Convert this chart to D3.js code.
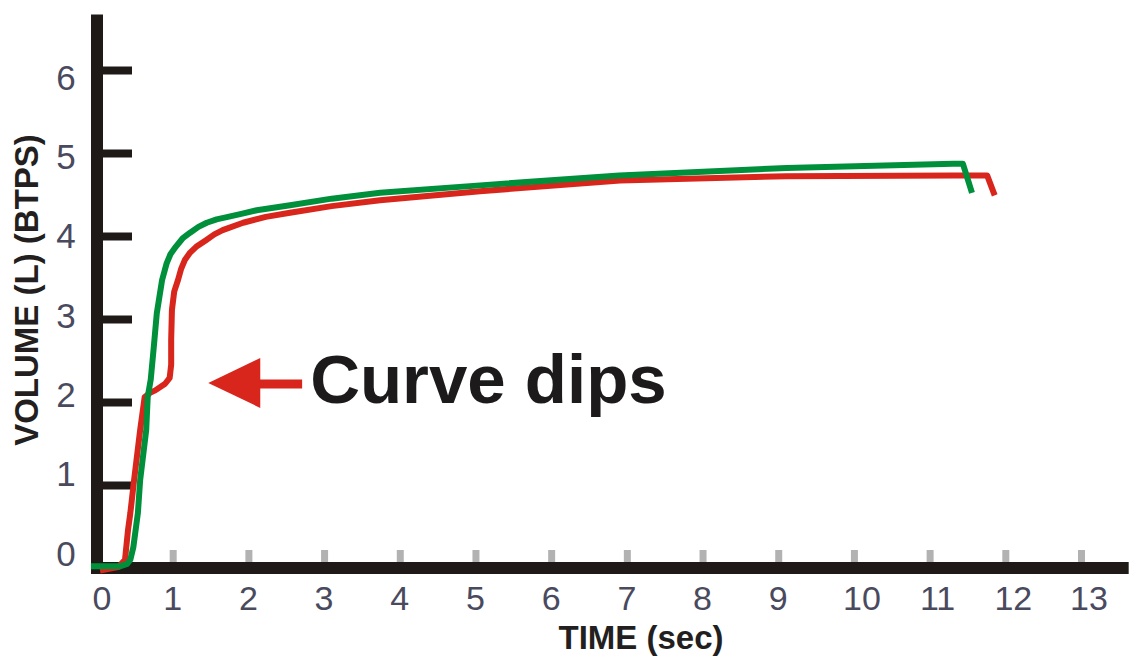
<!DOCTYPE html>
<html>
<head>
<meta charset="utf-8">
<script src="https://cdn.jsdelivr.net/npm/d3@7"></script>
<style>
  html, body { margin: 0; padding: 0; background: #fff; }
  svg { display: block; }
  text { font-family: "Liberation Sans", Arial, sans-serif; }
</style>
</head>
<body>
<svg id="chart" width="1129" height="657"></svg>
<script>
// spirometry volume-time curves: normal (green) vs. one with a dip (red)

const xTicks = [0, 1, 2, 3, 4, 5, 6, 7, 8, 9, 10, 11, 12, 13];
const yTicks = [0, 1, 2, 3, 4, 5, 6];

// green trace (seconds, litres)
const greenTime = [-0.08, 0.30, 0.40, 0.44, 0.48, 0.54, 0.57, 0.65, 0.67, 0.71, 0.75, 0.79, 0.86, 0.92, 0.97, 1.04, 1.13, 1.23, 1.34, 1.45, 1.58, 1.73, 1.92, 2.11, 2.55, 3.10, 3.74, 5.06, 6.90, 9.11, 11.31, 11.44, 11.56];
const greenVol  = [0.02, 0.02, 0.05, 0.10, 0.25, 0.66, 1.06, 1.66, 2.06, 2.27, 2.66, 3.07, 3.47, 3.67, 3.78, 3.87, 3.97, 4.04, 4.11, 4.16, 4.20, 4.23, 4.27, 4.31, 4.37, 4.45, 4.52, 4.61, 4.73, 4.82, 4.87, 4.87, 4.52];

// red trace, the one that dips
const redTime = [0.04, 0.28, 0.37, 0.41, 0.44, 0.49, 0.57, 0.63, 0.70, 0.77, 0.90, 0.96, 0.98, 0.98, 0.99, 1.02, 1.07, 1.11, 1.16, 1.23, 1.31, 1.44, 1.55, 1.66, 1.93, 2.23, 2.55, 3.10, 3.74, 5.06, 6.91, 9.11, 11.31, 11.76, 11.86];
const redVol  = [-0.03, 0.01, 0.10, 0.46, 0.66, 1.06, 1.66, 2.06, 2.11, 2.14, 2.22, 2.29, 2.45, 2.75, 3.11, 3.33, 3.47, 3.60, 3.71, 3.80, 3.87, 3.95, 4.02, 4.07, 4.16, 4.23, 4.28, 4.36, 4.43, 4.54, 4.67, 4.72, 4.73, 4.73, 4.49];

// annotation arrow, in data units
const arrowTip = [1.47, 2.23];
const arrowTailX = 2.71;
const noteText = "Curve dips";

const axisColor = "#1f1a17";
const greenColor = "#00903c";
const redColor = "#d8261c";
const labelColor = "#4a4a5e";

const svg = d3.select("#chart");

// SCALES
const x = d3.scaleLinear().domain([0, 13]).range([97, 1081]);
const y = d3.scaleLinear().domain([0, 6]).range([568, 70]);
// tick numbers sit a bit off the ticks in the original
const yLab = d3.scaleLinear().domain([0, 6]).range([553, 77]);

// AXES
// x ticks (small grey marks above the axis)
svg.append("g")
    .attr("class", "x axis")
    .attr("transform", `translate(0,${y(0) - 6})`)
    .call(d3.axisTop(x).tickValues(xTicks.slice(1)).tickSize(12).tickFormat(""))
    .call(g => g.select(".domain").remove())
    .selectAll(".tick line")
    .attr("stroke", "#b2b2b2")
    .attr("stroke-width", 7);

// y ticks (heavy black)
svg.append("g")
    .attr("class", "y axis")
    .attr("transform", `translate(103,0)`)
    .call(d3.axisRight(y).tickValues(yTicks.slice(1)).tickSize(29).tickFormat(""))
    .call(g => g.select(".domain").remove())
    .selectAll(".tick line")
    .attr("stroke", axisColor)
    .attr("stroke-width", 8);

// axis bars
svg.append("line")
    .attr("x1", x(0)).attr("x2", x(0))
    .attr("y1", y(0) + 6).attr("y2", y(6.67))
    .attr("stroke", axisColor).attr("stroke-width", 12);

svg.append("line")
    .attr("x1", x(0) - 6).attr("x2", x(13.63))
    .attr("y1", y(0)).attr("y2", y(0))
    .attr("stroke", axisColor).attr("stroke-width", 12);

// tick labels
svg.selectAll(".xlab")
    .data(xTicks)
    .join("text")
    .attr("class", "xlab")
    .attr("x", d => x(d) + (d >= 10 ? 8 : d === 0 ? 5 : 0))
    .attr("y", 610)
    .attr("text-anchor", "middle")
    .attr("font-size", 34)
    .attr("fill", labelColor)
    .text(d => d);

svg.selectAll(".ylab")
    .data(yTicks)
    .join("text")
    .attr("class", "ylab")
    .attr("x", 66)
    .attr("y", d => yLab(d))
    .attr("dy", "0.36em")
    .attr("text-anchor", "middle")
    .attr("font-size", 35)
    .attr("fill", labelColor)
    .text(d => d);

// axis titles
svg.append("text")
    .attr("x", 641)
    .attr("y", 649)
    .attr("text-anchor", "middle")
    .attr("font-size", 33)
    .attr("font-weight", "bold")
    .attr("fill", "#231f20")
    .text("TIME (sec)");

svg.append("text")
    .attr("transform", "translate(38,290) rotate(-90)")
    .attr("text-anchor", "middle")
    .attr("font-size", 33)
    .attr("font-weight", "bold")
    .attr("fill", "#231f20")
    .text("VOLUME (L) (BTPS)");

// CURVES
const line = d3.line()
    .x(d => x(d[0]))
    .y(d => y(d[1]))
    .curve(d3.curveLinear);

const redData = redTime.map((t, i) => [t, redVol[i]]);
const greenData = greenTime.map((t, i) => [t, greenVol[i]]);

svg.append("path")
    .datum(redData)
    .attr("d", line)
    .attr("fill", "none")
    .attr("stroke", redColor)
    .attr("stroke-width", 6)
    .attr("stroke-linejoin", "round");

svg.append("path")
    .datum(greenData)
    .attr("d", line)
    .attr("fill", "none")
    .attr("stroke", greenColor)
    .attr("stroke-width", 6)
    .attr("stroke-linejoin", "round");

// ANNOTATION
const tipX = x(arrowTip[0]), tipY = y(arrowTip[1]);
const headLen = 52, headHalf = 25;

svg.append("line")
    .attr("x1", tipX + headLen - 2).attr("x2", x(arrowTailX))
    .attr("y1", tipY + 1).attr("y2", tipY + 1)
    .attr("stroke", redColor).attr("stroke-width", 9);

svg.append("path")
    .attr("d", `M${tipX},${tipY} L${tipX + headLen},${tipY - headHalf} L${tipX + headLen},${tipY + headHalf} Z`)
    .attr("fill", redColor);

svg.append("text")
    .attr("x", x(arrowTailX) + 8)
    .attr("y", tipY + 20)
    .attr("font-size", 69)
    .attr("font-weight", "bold")
    .attr("fill", "#1c1a1a")
    .text(noteText);
</script>
</body>
</html>
